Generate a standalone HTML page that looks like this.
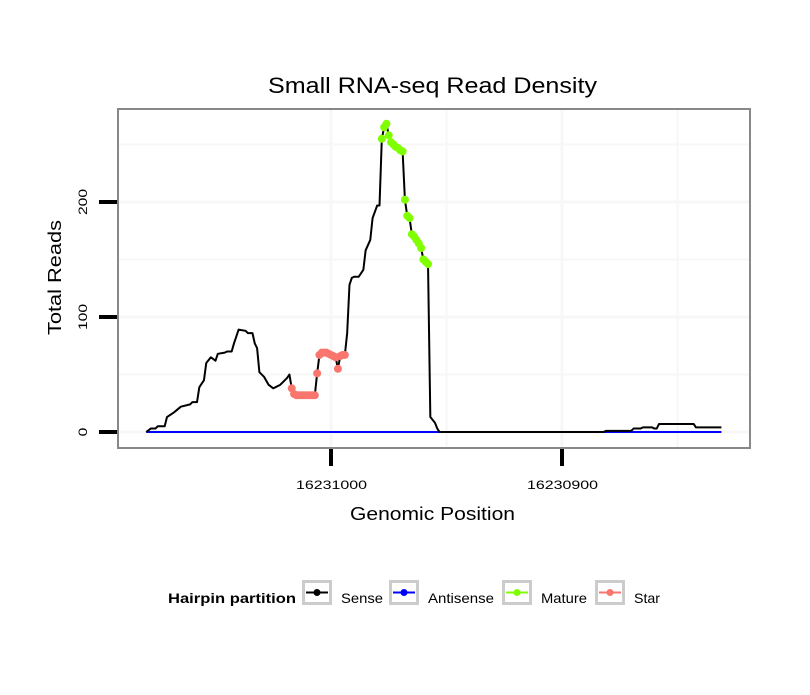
<!DOCTYPE html>
<html><head><meta charset="utf-8"><style>
body{margin:0;background:#fff;}
svg text{font-family:"Liberation Sans",sans-serif;}
</style></head><body>
<svg id="chart" width="810" height="690" xmlns="http://www.w3.org/2000/svg">
<rect width="810" height="690" fill="#fff"/>
<text x="268" y="93" font-size="22" textLength="329" lengthAdjust="spacingAndGlyphs">Small RNA-seq Read Density</text>
<rect x="118" y="109" width="632" height="339" fill="#fff"/>
<g id="grid"></g>
<g id="series"></g>
<rect x="118" y="109" width="632" height="339" fill="none" stroke="#888" stroke-width="2"/>
<g id="axes"></g>
<text x="350" y="520" font-size="18" textLength="165" lengthAdjust="spacingAndGlyphs">Genomic Position</text>
<text transform="translate(61,335) rotate(-90)" font-size="18" textLength="115" lengthAdjust="spacingAndGlyphs">Total Reads</text>
<g>
<text x="168" y="603" font-size="14" font-weight="bold" textLength="128" lengthAdjust="spacingAndGlyphs">Hairpin partition</text>
<g id="legend-items"></g>
</g>
</svg>
<script>
const base = 16231000;
const senseOffsets = [80,78,76,75,72,71,68,65,61,60,58,57,55,54,52,50,49,46,45,43,42,40,37,36,34,33,32,31,29,27,25,22,19,18,17,16,15,14,13,12,11,10,9,8,7,6,5,4,3,2,1,0,-1,-2,-3,-4,-5,-6,-7,-8,-9,-10,-12,-14,-15,-17,-18,-20,-21,-22,-23,-24,-25,-26,-27,-28,-29,-30,-31,-32,-33,-34,-35,-36,-37,-38,-39,-40,-41,-42,-43,-45,-46,-47,-118,-119,-130,-131,-134,-135,-139,-140,-141,-142,-157,-158,-169];
const senseValues = [0,3,3,5,5,13,17,22,24,26,26,39,45,60,65,62,68,69,70,70,77,89,88,86,86,77,73,52,48,41,38,41,47,50,38,33,32,32,32,32,32,32,32,32,32,51,67,69,69,69,68,67,66,65,55,66,67,67,86,128,134,135,135,141,158,167,186,197,197,255,265,268,258,252,250,248,247,245,244,202,188,186,172,170,167,164,160,150,148,146,13,8,3,0,0,1,1,3,3,4,4,3,3,7,7,4,4];
const starRange = [17,-6];
const matureRange = [-22,-42];
const antisenseRange = [80,-169];
const xTicks = [16231000,16230900];
const yTicks = [0,100,200];
const xGrid = [16230950,16230850];
const yGrid = [50,150,250];

const xs = p => 331 + (base - p) * 2.31;
const ys = v => 432 - v * 1.15;
const NS = "http://www.w3.org/2000/svg";
function mk(tag, attrs, parent){const e=document.createElementNS(NS,tag);for(const k in attrs)e.setAttribute(k,attrs[k]);parent.appendChild(e);return e;}

const grid=document.getElementById('grid');
xGrid.concat(xTicks).forEach(p=>{
  const l=mk('line',{x1:xs(p),x2:xs(p),y1:110,y2:447,stroke:'#f7f7f7','stroke-width':xTicks.includes(p)?3:2},grid);
  
  
});
yGrid.concat(yTicks).forEach(v=>{
  const l=mk('line',{x1:119,x2:749,y1:ys(v),y2:ys(v),stroke:'#f7f7f7','stroke-width':yTicks.includes(v)?3:2},grid);
  
  
});

const ser=document.getElementById('series');
const pos = senseOffsets.map(o=>base+o);
const a=mk('line',{x1:xs(base+antisenseRange[0]),x2:xs(base+antisenseRange[1]),y1:ys(0),y2:ys(0),stroke:'#0000ff','stroke-width':2},ser);


const pl=mk('polyline',{points:pos.map((p,i)=>xs(p)+','+ys(senseValues[i])).join(' '),fill:'none',stroke:'#000','stroke-width':2,'stroke-linejoin':'round'},ser);


senseOffsets.forEach((o,i)=>{
  let c=null,n='';
  if(o<=starRange[0]&&o>=starRange[1]){c='#f8766d';n='star-point';}
  if(o<=matureRange[0]&&o>=matureRange[1]){c='#7fff00';n='mature-point';}
  if(c){
    const d=mk('circle',{cx:xs(base+o),cy:ys(senseValues[i]),r:4,fill:c},ser);
    
    
  }
});

const ax=document.getElementById('axes');
xTicks.forEach(p=>{
  const t=mk('line',{x1:xs(p),x2:xs(p),y1:449,y2:466,stroke:'#000','stroke-width':4},ax);
  
  
  const tx=mk('text',{x:xs(p)-35,y:489,'font-size':12,textLength:71,lengthAdjust:'spacingAndGlyphs'},ax);
  tx.textContent=p;
  
  
});
yTicks.forEach(v=>{
  const t=mk('line',{x1:99,x2:117,y1:ys(v),y2:ys(v),stroke:'#000','stroke-width':4},ax);
  
  
  const w=String(v).length*8.7;
  const tx=mk('text',{transform:`translate(87,${ys(v)+w/2}) rotate(-90)`,'font-size':12,textLength:w,lengthAdjust:'spacingAndGlyphs'},ax);
  tx.textContent=v;
  
  
});

const legendNames=['Sense','Antisense','Mature','Star'];
const legendWidths=[42,66,46,26];
const legendColors=['#000','#0000ff','#7fff00','#f8766d'];
const legendX=[302,389,502,595];
const lg=document.getElementById('legend-items');
legendNames.forEach((nm,i)=>{
  const x=legendX[i];
  const b=mk('rect',{x:x+1.5,y:581.5,width:27,height:22,fill:'#fff',stroke:'#ccc','stroke-width':3},lg);
  
  
  mk('line',{x1:x+4,x2:x+26,y1:592.5,y2:592.5,stroke:legendColors[i],'stroke-width':2},lg);
  mk('circle',{cx:x+15,cy:592.5,r:3.5,fill:legendColors[i]},lg);
  const t=mk('text',{x:x+39,y:603,'font-size':14,textLength:legendWidths[i],lengthAdjust:'spacingAndGlyphs'},lg);
  t.textContent=nm;
  
  
});
</script>
</body></html>
